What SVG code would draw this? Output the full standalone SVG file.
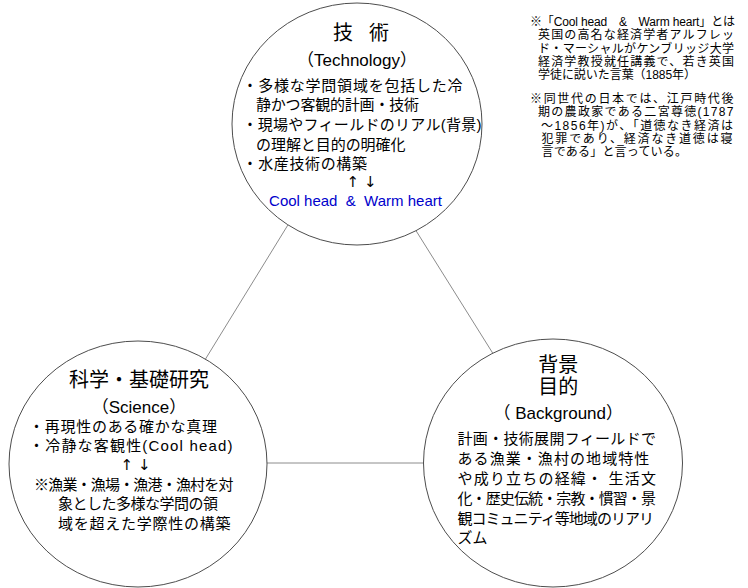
<svg xmlns="http://www.w3.org/2000/svg" width="748" height="588" viewBox="0 0 748 588">
<style>
text { font-family: "Liberation Sans", "Noto Sans CJK JP", sans-serif; fill: #000; }
.b { font-size: 15px; }
.n { font-size: 12px; }
.h { font-size: 20px; }
.s { font-size: 17px; }
.c { text-anchor: middle; }
.ar { font-family: "DejaVu Sans", sans-serif; font-size: 15px; text-anchor: middle; fill: #000; }
.blue { fill: #0000cc; }
.node { fill: #fff; stroke: #4d4d4d; stroke-width: 1; }
.conn { stroke: #8c8c8c; stroke-width: 1; fill: none; }
</style>
<rect width="748" height="588" fill="#fff"/>
<g id="connectors">
  <line class="conn" x1="334" y1="150" x2="168" y2="420"/>
  <line class="conn" x1="365.5" y1="150" x2="534.6" y2="420"/>
  <line class="conn" x1="200" y1="463" x2="500" y2="463"/>
</g>
<g id="technology">
  <ellipse class="node" cx="357" cy="124" rx="125" ry="121"/>
  <text class="h c" x="361" y="40" textLength="56">技　術</text>
  <text class="s c" x="357" y="66">（Technology）</text>
  <text class="b" x="242.5" y="90.5" textLength="220">・多様な学問領域を包括した冷</text>
  <text class="b" x="256" y="110" textLength="163">静かつ客観的計画・技術</text>
  <text class="b" x="242.5" y="130" textLength="239">・現場やフィールドのリアル(背景)</text>
  <text class="b" x="256" y="150" textLength="149.5">の理解と目的の明確化</text>
  <text class="b" x="242.5" y="169" textLength="124.5">・水産技術の構築</text>
  <text class="ar" x="361.5" y="187">↑ ↓</text>
  <text class="b c blue" x="355.5" y="206">Cool head&#160;&#160;&amp;&#160;&#160;Warm heart</text>
</g>
<g id="science">
  <ellipse class="node" cx="138" cy="464" rx="129" ry="123"/>
  <text class="h c" x="139" y="387">科学・基礎研究</text>
  <text class="s c" x="139" y="413">（Science）</text>
  <text class="b" x="29" y="432" textLength="188">・再現性のある確かな真理</text>
  <text class="b" x="29" y="451" textLength="203.5">・冷静な客観性(Cool head)</text>
  <text class="ar" x="135.5" y="470">↑ ↓</text>
  <text class="b" x="34" y="490" textLength="199.5">※漁業・漁場・漁港・漁村を対</text>
  <text class="b" x="58" y="509" textLength="160">象とした多様な学問の領</text>
  <text class="b" x="58" y="529" textLength="172.5">域を超えた学際性の構築</text>
</g>
<g id="background">
  <ellipse class="node" cx="553" cy="463" rx="129.5" ry="124"/>
  <text class="h c" x="558.3" y="371.5">背景</text>
  <text class="h c" x="558.3" y="394">目的</text>
  <text class="s c" x="558.3" y="418.5">（ Background）</text>
  <text class="b" x="457.5" y="443.7" textLength="198.5">計画・技術展開フィールドで</text>
  <text class="b" x="457.5" y="463.7" textLength="191.8">ある漁業・漁村の地域特性</text>
  <text class="b" x="457.5" y="483.7" textLength="198.5">や成り立ちの経緯・ 生活文</text>
  <text class="b" x="457.5" y="503.7" textLength="198.5">化・歴史伝統・宗教・慣習・景</text>
  <text class="b" x="457.5" y="523.7" textLength="196.5">観コミュニティ等地域のリアリ</text>
  <text class="b" x="457.5" y="542.7">ズム</text>
</g>
<g id="notes">
  <text class="n" x="530" y="26" textLength="205">※「Cool head　&amp;　Warm heart」とは</text>
  <text class="n" x="538" y="39.3" textLength="196">英国の高名な経済学者アルフレッ</text>
  <text class="n" x="538" y="52.6" textLength="196">ド・マーシャルがケンブリッジ大学</text>
  <text class="n" x="538" y="65.9" textLength="196">経済学教授就任講義で、若き英国</text>
  <text class="n" x="538" y="79.2" textLength="158">学徒に説いた言葉（1885年）</text>
  <text class="n" x="530" y="103" textLength="203.5">※同世代の日本では、江戸時代後</text>
  <text class="n" x="538" y="116.3" textLength="195.5">期の農政家である二宮尊徳(1787</text>
  <text class="n" x="541" y="129.6" textLength="192">～1856年)が、「道徳なき経済は</text>
  <text class="n" x="541.5" y="142.9" textLength="191">犯罪であり、経済なき道徳は寝</text>
  <text class="n" x="541.5" y="156.2" textLength="145.5">言である」と言っている。</text>
</g>
</svg>
